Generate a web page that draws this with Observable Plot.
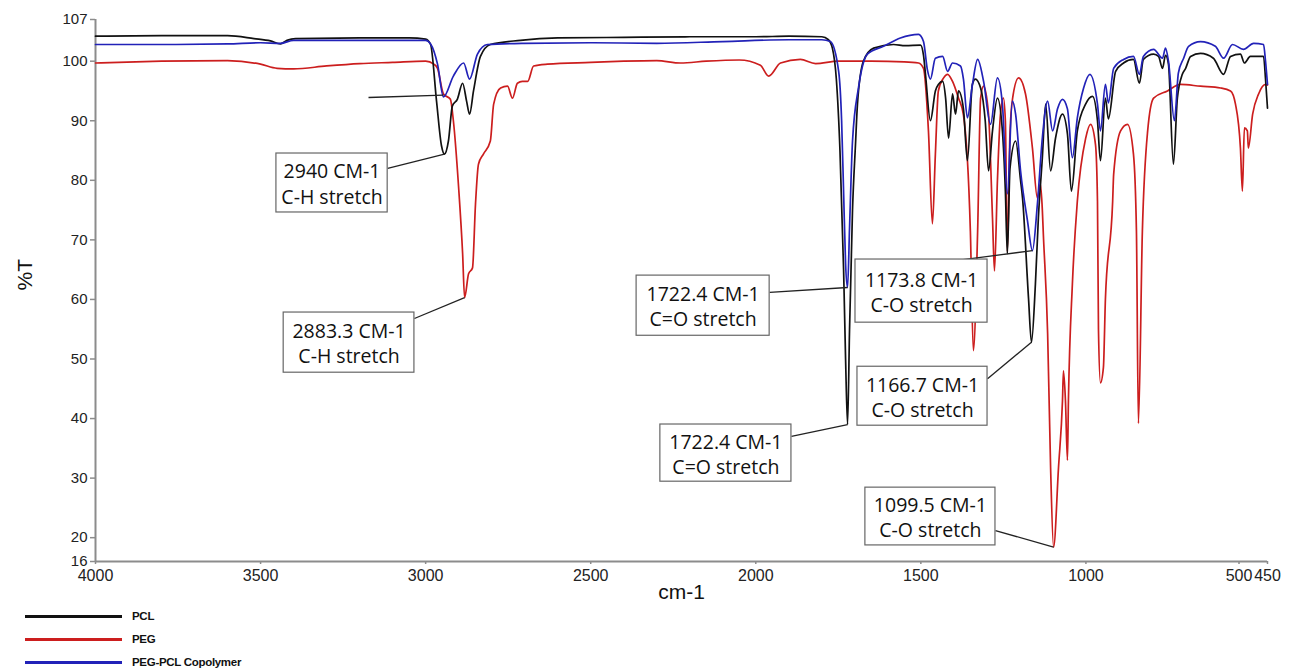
<!DOCTYPE html>
<html>
<head>
<meta charset="utf-8">
<script src="https://cdn.jsdelivr.net/npm/d3@7"></script>
<script src="https://cdn.jsdelivr.net/npm/@observablehq/plot@0.6"></script>
<style>
  html, body { margin: 0; padding: 0; background: #fff; }
  #chart { width: 1298px; height: 604px; }
  #legend { position: relative; width: 1298px; height: 65px; font-family: "Liberation Sans", Arial, sans-serif; }
  .lg { position: absolute; left: 25px; height: 20px; display: flex; align-items: center; }
  .lg .sw { width: 97px; height: 0; border-top: 3px solid; margin-right: 10px; }
  .lg .tx { font-weight: bold; font-size: 11.5px; color: #111; letter-spacing: -0.3px; }
</style>
</head>
<body>
<div id="chart"></div>
<div id="legend"></div>
<script>
// ---- Data (wavenumber cm-1, %T) ----
const pclW = [4000,3800,3600,3520,3470,3440,3420,3394,3200,3050,3000,2985,2967,2952,2943,2931,2919,2904,2888,2876,2867,2855,2834,2804,2713,2600,2400,2200,2000,1900,1800,1780,1768,1756,1745,1734,1728,1722,1716,1707,1698,1692,1674,1643,1583,1547,1501,1492,1486,1471,1456,1447,1434,1425,1416,1404,1395,1386,1371,1359,1344,1335,1319,1305,1295,1283,1268,1253,1244,1238,1230,1213,1198,1192,1174,1165,1153,1144,1132,1122,1107,1092,1071,1056,1044,1026,1001,980,965,956,941,932,910,886,856,838,826,795,780,768,759,750,735,723,708,698,683,653,614,583,562,532,520,502,462,456,450];
const pclT = [104.2,104.3,104.3,103.8,103.4,102.9,103.5,103.8,103.9,103.9,103.7,102.8,93.3,85.8,84.4,86.6,92.5,93.6,96.3,93.3,91.1,95,100.8,102.8,103.5,103.9,104,104.1,104.1,104.2,104.1,103.6,102.2,97,85,65,50,39,55,75,86,92.8,100,102.2,102.8,102.6,102.7,101,97.8,90,95,96.1,96.6,93.8,87.1,94.5,91.1,95,92,83.3,96.1,97,95.5,90,81.6,88.3,93.8,88.3,78.2,67.7,82,86.6,80,77,60.3,52.8,62.6,73.7,83.8,92.8,81.6,87.1,91.1,87.8,78.2,88.3,92.8,94.1,90,83.3,93.8,90.3,98.3,99.7,100.3,96.3,100.3,101.2,100.8,98.8,101,99.5,82.7,93.8,97.8,98.8,100.8,101.3,100.5,97.8,100.8,101.2,99.7,100.8,100.8,97,92.1];

const pegW = [4000,3800,3600,3500,3450,3400,3300,3200,3100,3000,2975,2964,2946,2925,2916,2900,2888,2882,2870,2858,2849,2840,2825,2804,2794,2773,2752,2737,2722,2707,2691,2673,2631,2500,2400,2300,2228,2150,2050,1986,1961,1925,1865,1819,1750,1650,1550,1507,1492,1477,1465,1456,1447,1431,1419,1404,1386,1371,1350,1341,1328,1319,1310,1295,1283,1277,1268,1259,1250,1244,1238,1230,1222,1204,1183,1162,1147,1138,1132,1129,1116,1107,1098,1083,1071,1068,1062,1056,1053,1041,1026,1001,986,971,965,962,956,947,941,919,916,895,874,856,847,841,829,813,795,753,714,653,592,562,547,532,526,520,511,508,495,477,456,450];
const pegT = [99.7,100,100.1,99.5,98.8,98.7,99.2,99.6,99.8,100,99.5,98.8,94.5,93.6,90,78.7,67.7,60.3,64.3,65.3,76,82.7,84.4,86.6,92.8,95.5,95.8,93.8,96.3,96.6,96.6,99.2,99.5,99.8,100,100.1,99.7,100,100.2,99.3,97.5,99.7,100.3,99.6,100,100,99.9,99.7,98.8,88.3,72.7,84.4,95,97.2,97.8,96.6,93.8,91,71.5,51.4,71.5,93.8,95.8,91.1,73.7,64.8,80,91,93.8,90,68,88,93.8,97.2,94.5,85.4,77,79.4,75,71,54.3,31.8,18.4,31.8,43,48,43,33,43,62.6,76.5,87,89.4,86,76.5,55,46,48.6,60,76.5,81,88.3,89.4,84.4,71.5,39.2,71.5,88.3,93.8,95,96.1,95.8,95.5,95,92.8,85.4,78.2,88.8,88.3,85.4,91.1,94.5,96.1,96];

const copW = [4000,3800,3600,3500,3440,3400,3200,3000,2985,2964,2946,2916,2885,2867,2843,2813,2700,2500,2300,2100,1900,1800,1774,1749,1740,1734,1728,1722,1716,1707,1689,1662,1613,1562,1507,1492,1480,1471,1456,1434,1419,1404,1380,1371,1359,1344,1328,1310,1289,1268,1253,1238,1223,1213,1198,1177,1162,1147,1132,1116,1101,1086,1071,1056,1041,1026,1007,988,965,956,941,932,916,886,856,838,826,795,768,759,750,732,720,704,689,653,608,583,556,523,492,462,456,450];
const copT = [102.8,102.8,102.9,103.1,103.0,103.5,103.5,103.5,102.9,99.5,94,97.5,99.7,97,101.2,102.8,103,103.1,103.0,103.3,103.6,103.6,103.3,98.3,90,78,66,62,72,86.6,95.5,101.2,102.5,103.9,104.5,103.3,98.5,97,100.5,100.8,98.3,99.7,99.2,97,90.5,96,100.3,96.6,89.4,97.2,92.8,77.7,93.3,91.1,81.6,73.2,68.2,76,87.1,93.3,88.3,92,93.6,92,83.8,90.5,95.5,97.8,92.8,88.3,96.1,93,98.8,100.3,100.8,97.8,100.8,102,100.5,102.2,100,90,98,100.5,102.5,103.3,102.5,100.5,102.8,102,103,102.8,100,96.1];

const seriesNames = ["PCL", "PEG", "PEG-PCL Copolymer"];
const seriesColors = ["#111111", "#cc1e1e", "#2222b8"];

const xTicks = [4000, 3500, 3000, 2500, 2000, 1500, 1000, 450];
const xTickShifted = [500];
const yTicks = [107, 100, 90, 80, 70, 60, 50, 40, 30, 20, 16];

// Annotations: peak (pw, pt), label box extents and leader start, all in data units
const annLabels = ["2940 CM-1\nC-H stretch", "2883.3 CM-1\nC-H stretch", "1722.4 CM-1\nC=O stretch", "1722.4 CM-1\nC=O stretch", "1173.8 CM-1\nC-O stretch", "1166.7 CM-1\nC-O stretch", "1099.5 CM-1\nC-O stretch"];
const annPeakW = [2943, 2882, 1722, 1722, 1162, 1165, 1098];
const annPeakT = [84.4, 60.3, 62, 39, 68.2, 52.8, 18.4];
const annBoxW1 = [3452, 3430, 2361, 2289, 1698, 1692, 1668];
const annBoxW2 = [3115, 3034, 1958, 1892, 1298, 1298, 1274];
const annBoxT1 = [84.5, 57.8, 64.0, 39.0, 66.7, 48.7, 28.4];
const annBoxT2 = [74.6, 47.7, 53.9, 29.4, 56.1, 38.8, 18.7];
const annLeadW = [3115, 3034, 1958, 1892, 1395, 1298, 1274];
const annLeadT = [82.0, 56.8, 61.2, 37.0, 66.5, 46.7, 21.2];
// extra stray leader line near 2940
const strayW1 = [3173], strayT1 = [93.9], strayW2 = [2946], strayT2 = [94.3];

// ---- Build tables ----
const toRows = (ws, ts, name) => ws.map((w, i) => ({w, t: ts[i], s: name}));
const spectra = [
  toRows(pegW, pegT, "PEG"),
  toRows(pclW, pclT, "PCL"),
  toRows(copW, copT, "PEG-PCL Copolymer")
];
const ann = annLabels.map((label, i) => ({
  label, pw: annPeakW[i], pt: annPeakT[i],
  bx1: annBoxW1[i], bx2: annBoxW2[i], by1: annBoxT1[i], by2: annBoxT2[i],
  lx: annLeadW[i], ly: annLeadT[i],
  cx: (annBoxW1[i] + annBoxW2[i]) / 2, cy: (annBoxT1[i] + annBoxT2[i]) / 2
}));
const stray = strayW1.map((w, i) => ({x1: w, y1: strayT1[i], x2: strayW2[i], y2: strayT2[i]}));

const axisColor = "#8c8c8c";
const font = "'Liberation Sans', Arial, sans-serif";

const chart = Plot.plot({
  width: 1298,
  height: 604,
  marginLeft: 95,
  marginRight: 31,
  marginTop: 19,
  marginBottom: 43,
  style: {fontFamily: font, background: "white", overflow: "visible"},
  x: {domain: [4000, 450], axis: null},
  y: {domain: [16, 107], axis: null},
  color: {domain: seriesNames, range: seriesColors},
  marks: [
    Plot.ruleX([4000], {stroke: axisColor, strokeWidth: 2}),
    Plot.ruleY([16], {stroke: axisColor, strokeWidth: 2}),
    Plot.axisY({ticks: yTicks, tickSize: 5, tickPadding: 3, stroke: axisColor, strokeWidth: 1.5, fontSize: 15, fill: "#222", tickFormat: d => String(d), label: null}),
    Plot.axisX({ticks: xTicks, tickSize: 3, tickPadding: 5, stroke: axisColor, strokeWidth: 1.5, fontSize: 16, fill: "#222", tickFormat: d => String(d), label: null}),
    Plot.axisX({ticks: xTickShifted, tickSize: 3, tickPadding: 5, stroke: axisColor, strokeWidth: 1.5, fontSize: 16, fill: "#222", tickFormat: d => String(d), label: null, dx: -12}),
    Plot.text(["%T"], {frameAnchor: "left", dx: -70, rotate: -90, fontSize: 21, fill: "#111", text: d => d}),
    Plot.text(["cm-1"], {frameAnchor: "bottom", dy: 37, fontSize: 21, fill: "#111", text: d => d}),
    ...spectra.map(rows => Plot.line(rows, {x: "w", y: "t", stroke: "s", strokeWidth: 1.7, curve: "monotone-x"})),
    Plot.link(stray, {x1: "x1", y1: "y1", x2: "x2", y2: "y2", stroke: "#222", strokeWidth: 1.3}),
    Plot.link(ann, {x1: "lx", y1: "ly", x2: "pw", y2: "pt", stroke: "#222", strokeWidth: 1.3}),
    Plot.rect(ann, {x1: "bx1", x2: "bx2", y1: "by1", y2: "by2", fill: "white", stroke: "#666", strokeWidth: 1.2}),
    Plot.text(ann, {x: "cx", y: "cy", text: "label", fontSize: 19.5, lineHeight: 1.3, fill: "#111", fontFamily: "'Open Sans', sans-serif", textAnchor: "middle"})
  ]
});
document.getElementById("chart").appendChild(chart);

// Legend
const legend = document.getElementById("legend");
seriesNames.forEach((name, i) => {
  const row = document.createElement("div");
  row.className = "lg";
  row.style.top = (2 + i * 23) + "px";
  const sw = document.createElement("span");
  sw.className = "sw";
  sw.style.borderColor = seriesColors[i];
  const tx = document.createElement("span");
  tx.className = "tx";
  tx.textContent = name;
  row.appendChild(sw);
  row.appendChild(tx);
  legend.appendChild(row);
});
</script>
</body>
</html>
